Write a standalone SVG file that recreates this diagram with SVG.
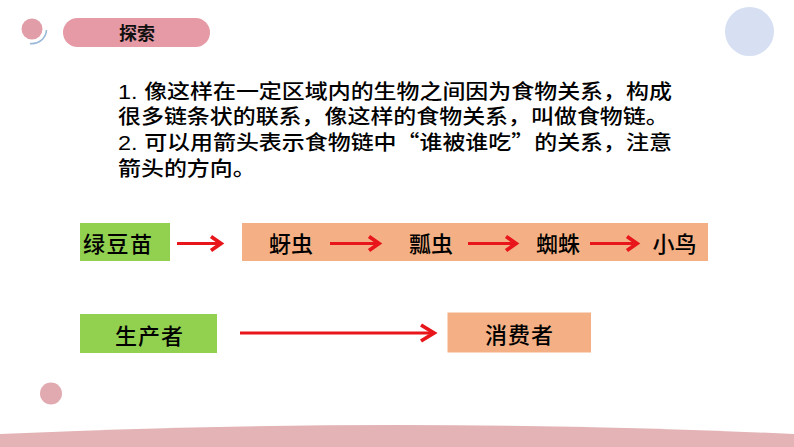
<svg xmlns="http://www.w3.org/2000/svg" width="794" height="447" viewBox="0 0 794 447">
<style>
.t{font-family:"Noto Sans CJK SC","Liberation Sans",sans-serif;font-size:20.5px;font-weight:500;fill:#000}
.b{font-family:"Noto Sans CJK SC","Liberation Sans",sans-serif;font-size:22px;font-weight:500;fill:#000}
.n{font-family:"Liberation Sans","Noto Sans CJK SC",sans-serif;font-size:21px}
.g{fill:#92d050}
.o{fill:#f4b084}
.ln{stroke:#e8161b;stroke-width:3;fill:none}
.hd{stroke:#e8161b;stroke-width:3.8;fill:none;stroke-linejoin:miter;stroke-linecap:butt}
</style>
<rect width="794" height="447" fill="#fff"/>
<circle cx="32" cy="29" r="10.5" fill="#e29ea8"/>
<path d="M46.5,30 A14.5,14.5 0 0 1 30,43.5" fill="none" stroke="#9ab8d8" stroke-width="1.6"/>
<circle cx="749.5" cy="31.5" r="24.5" fill="#d6e0f2"/>
<circle cx="51" cy="393.5" r="11" fill="#e0aab0"/>
<path d="M0,434 Q397,416 794,434 L794,447 L0,447 Z" fill="#e3b3b5"/>
<g id="title">
<rect x="63" y="18" width="147" height="29" rx="14.5" fill="#e59aa5"/>
<text x="137" y="40" text-anchor="middle" style="font-family:'Noto Sans CJK SC',sans-serif;font-size:18px;font-weight:bold;fill:#111">探索</text>
</g>
<g id="intro" class="t">
<text transform="translate(118,98.5) scale(1.12,1)"><tspan class="n">1. </tspan>像这样在一定区域内的生物之间因为食物关系，构成</text>
<text transform="translate(118,124.3) scale(1.12,1)">很多链条状的联系，像这样的食物关系，叫做食物链。</text>
<text transform="translate(118,150.1) scale(1.12,1)"><tspan class="n">2. </tspan>可以用箭头表示食物链中“谁被谁吃”的关系，注意</text>
<text transform="translate(118,175.9) scale(1.12,1)">箭头的方向。</text>
</g>
<g id="lvdoumiao">
<rect class="g" x="80" y="223" width="90" height="38"/>
<text class="b" x="83" y="251.5" textLength="69" lengthAdjust="spacing">绿豆苗</text>
</g>
<g id="chain">
<rect class="o" x="242" y="223" width="466" height="38"/>
<text class="b" x="291" y="251.5" text-anchor="middle">蚜虫</text>
<text class="b" x="431" y="251.5" text-anchor="middle">瓢虫</text>
<text class="b" x="558" y="251.5" text-anchor="middle">蜘蛛</text>
<text class="b" x="674.5" y="251.5" text-anchor="middle">小鸟</text>
</g>
<g id="producer">
<rect class="g" x="80" y="314" width="137" height="39"/>
<text class="b" x="149" y="344" text-anchor="middle" textLength="68" lengthAdjust="spacing">生产者</text>
</g>
<g id="consumer">
<rect class="o" x="447.5" y="312.5" width="143.5" height="40"/>
<text class="b" x="519" y="343" text-anchor="middle" textLength="68" lengthAdjust="spacing">消费者</text>
</g>
<g id="connectors">
<line class="ln" x1="177" y1="243.5" x2="220" y2="243.5"/>
<polyline class="hd" points="211,236.5 221,243.5 211,250.5"/>
<line class="ln" x1="330" y1="243.5" x2="378" y2="243.5"/>
<polyline class="hd" points="369,236.5 379,243.5 369,250.5"/>
<line class="ln" x1="468" y1="243.5" x2="515" y2="243.5"/>
<polyline class="hd" points="506,236.5 516,243.5 506,250.5"/>
<line class="ln" x1="590" y1="243.5" x2="636" y2="243.5"/>
<polyline class="hd" points="627,236.5 637,243.5 627,250.5"/>
<line class="ln" x1="240" y1="333" x2="433" y2="333"/>
<polyline class="hd" points="421,325 434,333 421,341"/>
</g>
</svg>
